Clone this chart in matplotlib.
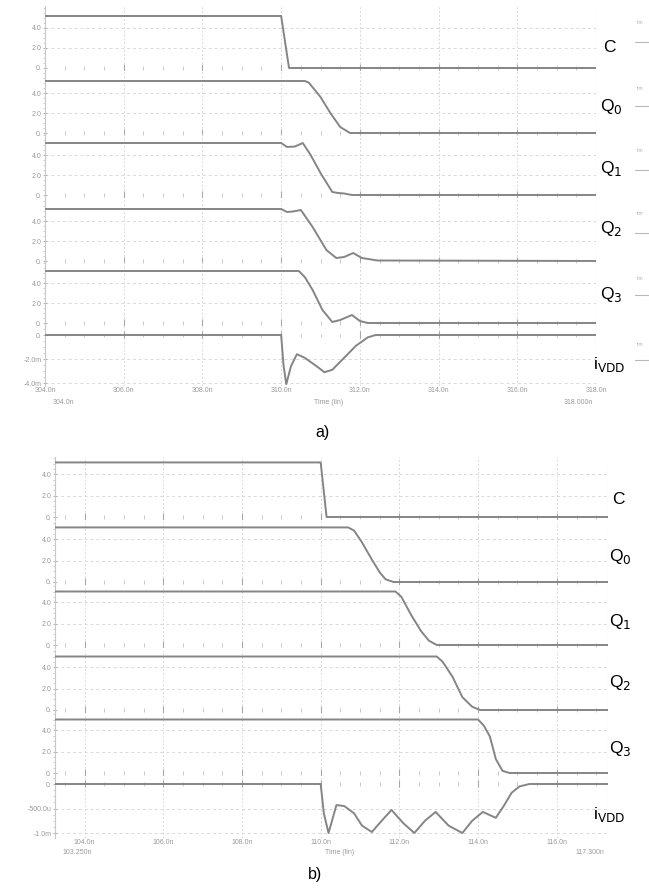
import math
import numpy as np
import matplotlib
matplotlib.use("Agg")
import matplotlib.pyplot as plt
from matplotlib.lines import Line2D

plt.rcParams['font.family'] = ['Liberation Sans', 'DejaVu Sans']

# ---------------- data (times in ns, voltages in V, currents in mA) -------------
signal_names = ["C", "Q$_0$", "Q$_1$", "Q$_2$", "Q$_3$", "i$_{\\rm VDD}$"]

# panel a)
a_xlim = (304.0, 318.0)
a_xticks = [304.0, 306.0, 308.0, 310.0, 312.0, 314.0, 316.0, 318.0]
a_xticklabels = ["304.0n", "306.0n", "308.0n", "310.0n", "312.0n", "314.0n", "316.0n", "318.0n"]
a_range_labels = ["304.0n", "Time (lin)", "318.000n"]

a_C_t = [304.0, 310.0, 310.2, 318.0]
a_C_v = [5.2, 5.2, 0.0, 0.0]
a_Q0_t = [304.0, 310.6, 310.7, 311.0, 311.25, 311.5, 311.75, 318.0]
a_Q0_v = [5.2, 5.2, 5.05, 3.6, 2.0, 0.6, 0.0, 0.0]
a_Q1_t = [304.0, 310.0, 310.15, 310.35, 310.55, 310.75, 311.0, 311.3, 311.45, 311.6, 311.8, 318.0]
a_Q1_v = [5.2, 5.2, 4.8, 4.85, 5.2, 4.0, 2.2, 0.3, 0.2, 0.15, 0.0, 0.0]
a_Q2_t = [304.0, 310.0, 310.15, 310.3, 310.5, 310.8, 311.15, 311.4, 311.6, 311.83, 312.05, 312.45, 318.0]
a_Q2_v = [5.2, 5.2, 4.9, 4.95, 5.1, 3.4, 1.1, 0.3, 0.4, 0.8, 0.3, 0.05, 0.0]
a_Q3_t = [304.0, 310.45, 310.6, 310.8, 311.05, 311.3, 311.5, 311.8, 312.0, 312.2, 318.0]
a_Q3_v = [5.2, 5.2, 4.6, 3.3, 1.3, 0.1, 0.3, 0.8, 0.2, 0.0, 0.0]
a_I_t = [304.0, 310.0, 310.06, 310.13, 310.25, 310.4, 310.6, 310.9, 311.1, 311.3, 311.6, 311.9, 312.2, 312.4, 318.0]
a_I_v = [0.0, 0.0, -2.5, -4.1, -2.6, -1.6, -1.9, -2.6, -3.1, -2.9, -1.9, -0.9, -0.2, 0.0, 0.0]
a_I_ticks = [0.0, -2.0, -4.0]
a_I_ticklabels = ["0.", "-2.0m", "-4.0m"]

# panel b)
b_xlim = (103.25, 117.3)
b_xticks = [104.0, 106.0, 108.0, 110.0, 112.0, 114.0, 116.0]
b_xticklabels = ["104.0n", "106.0n", "108.0n", "110.0n", "112.0n", "114.0n", "116.0n"]
b_range_labels = ["103.250n", "Time (lin)", "117.300n"]

b_C_t = [103.25, 110.0, 110.15, 117.3]
b_C_v = [5.1, 5.1, 0.0, 0.0]
b_Q0_t = [103.25, 110.7, 110.85, 111.05, 111.3, 111.5, 111.65, 111.85, 117.3]
b_Q0_v = [5.1, 5.1, 4.8, 3.7, 2.1, 0.9, 0.25, 0.0, 0.0]
b_Q1_t = [103.25, 111.9, 112.05, 112.3, 112.55, 112.75, 112.95, 117.3]
b_Q1_v = [5.0, 5.0, 4.5, 2.8, 1.3, 0.4, 0.0, 0.0]
b_Q2_t = [103.25, 112.95, 113.1, 113.35, 113.6, 113.85, 114.05, 117.3]
b_Q2_v = [5.0, 5.0, 4.5, 3.1, 1.2, 0.3, 0.0, 0.0]
b_Q3_t = [103.25, 114.0, 114.15, 114.3, 114.45, 114.62, 114.8, 117.3]
b_Q3_v = [5.0, 5.0, 4.4, 3.4, 1.3, 0.2, 0.0, 0.0]
b_I_t = [103.25, 110.0, 110.08, 110.2, 110.4, 110.6, 110.85, 111.05, 111.3, 111.55, 111.8,
         112.1, 112.38, 112.65, 112.92, 113.25, 113.6, 113.85, 114.12, 114.45, 114.65,
         114.85, 115.05, 115.3, 117.3]
b_I_v = [0.0, 0.0, -0.6, -1.0, -0.43, -0.45, -0.6, -0.85, -0.98, -0.75, -0.53,
         -0.8, -1.0, -0.75, -0.57, -0.85, -1.0, -0.75, -0.57, -0.69, -0.45,
         -0.18, -0.05, 0.0, 0.0]
b_I_ticks = [0.0, -0.5, -1.0]
b_I_ticklabels = ["0.", "-500.0u", "-1.0m"]

v_ticks = [0.0, 2.0, 4.0]
v_ticklabels = ["0.", "2.0", "4.0"]

# ---------------- layout helpers ----------------
W, H = 649, 888
fig = plt.figure(figsize=(W / 100, H / 100), dpi=100)
fig.patch.set_facecolor("white")

LINE = "#858585"
GRID = "#d9d9d9"
TXT = "#9a9a9a"
TFS = 5.0


def px_axes(left, top, right, bottom):
    return fig.add_axes([left / W, 1 - bottom / H, (right - left) / W, (bottom - top) / H])


def style_strip(ax, xlim, xticks, yticks, yticklabels, ylim, minor_step):
    ax.set_xlim(*xlim)
    ax.set_ylim(*ylim)
    ax.patch.set_alpha(0)
    for s in ("top", "right", "bottom"):
        ax.spines[s].set_visible(False)
    ax.spines["left"].set_color("#c8c8c8")
    ax.spines["left"].set_linewidth(0.8)
    ax.set_xticks(xticks)
    ax.set_xticklabels([])
    ax.tick_params(axis="x", length=0)
    ax.set_yticks(yticks)
    ax.set_yticklabels(yticklabels, fontsize=TFS, color=TXT)
    ax.tick_params(axis="y", length=3, color="#b8b8b8", pad=1, direction="inout")
    step = abs(yticks[1] - yticks[0]) / 4
    ax.set_yticks(np.arange(math.ceil(ylim[0] / step) * step, ylim[1], step), minor=True)
    ax.tick_params(axis="y", which="minor", length=1.5, color="#c8c8c8")
    for xt in xticks:
        ax.axvline(xt, color=GRID, lw=0.7, ls=(0, (2, 2)), zorder=0)
    for yt in yticks[1:]:
        ax.axhline(yt, color=GRID, lw=0.7, ls=(0, (3, 3)), zorder=0)
    # small tick marks along zero line
    start = math.ceil(xlim[0] / minor_step) * minor_step
    xs = np.arange(start, xlim[1] + 1e-9, minor_step)
    yr = ylim[1] - ylim[0]
    ax.vlines(xs, -0.025 * yr, 0.025 * yr, color="#c0c0c0", lw=0.6, zorder=1)
    ax.vlines(xticks, -0.05 * yr, 0.06 * yr, color="#a8a8a8", lw=0.8, zorder=1)
    ax.axvline(xlim[1], color="#c0c0c0", lw=0.8, ls=(0, (2, 1.5)), zorder=0)


def draw_panel(left, right, zeros, heights, vscale, iscale, izero, ibottom,
               xlim, xticks, xticklabels, range_labels, series, iseries, iticks, iticklabels,
               label_pos, range_y):
    for z, (tt, vv) in zip(zeros, series):
        top = z - heights
        bottom = z + 3
        ax = px_axes(left, top, right, bottom)
        ylim = (-(bottom - z) / vscale, (z - top) / vscale)
        style_strip(ax, xlim, xticks, v_ticks, v_ticklabels, ylim, 0.5)
        ax.plot(tt, vv, color=LINE, lw=1.4, solid_joinstyle="round", solid_capstyle="round", zorder=3)
    # current strip
    top = zeros[-1] + 3
    ax = px_axes(left, top, right, ibottom)
    ylim = (-(ibottom - izero) / iscale, (izero - top) / iscale)
    style_strip(ax, xlim, xticks, iticks, iticklabels, ylim, 0.5)
    ax.plot(iseries[0], iseries[1], color=LINE, lw=1.4, solid_joinstyle="round", solid_capstyle="round", zorder=3)
    ax.set_xticklabels(xticklabels, fontsize=TFS, color=TXT)
    ax.tick_params(axis="x", pad=1)
    # second row of time labels
    fig.text(left / W + 0.012, 1 - range_y / H, range_labels[0], fontsize=TFS, color=TXT, ha="left", va="center")
    fig.text((left + right) / 2 / W + 0.012, 1 - range_y / H, range_labels[1], fontsize=TFS, color=TXT, ha="center", va="center")
    fig.text(right / W - 0.005, 1 - range_y / H, range_labels[2], fontsize=TFS, color=TXT, ha="right", va="center")
    # signal names
    for name, (x, y) in zip(signal_names, label_pos):
        fig.text(x / W, 1 - y / H, name, fontsize=12.5, color="black", ha="left", va="center")


# panel a
draw_panel(45, 596,
           zeros=[68, 133, 195, 261, 323], heights=62, vscale=10.0,
           iscale=12.0, izero=335, ibottom=386,
           xlim=a_xlim, xticks=a_xticks, xticklabels=a_xticklabels, range_labels=a_range_labels,
           series=[(a_C_t, a_C_v), (a_Q0_t, a_Q0_v), (a_Q1_t, a_Q1_v), (a_Q2_t, a_Q2_v), (a_Q3_t, a_Q3_v)],
           iseries=(a_I_t, a_I_v), iticks=a_I_ticks, iticklabels=a_I_ticklabels,
           label_pos=[(603, 47), (600, 106), (600, 169), (600, 229), (600, 294), (593, 364)],
           range_y=403)

# panel b
draw_panel(55, 608,
           zeros=[517, 582, 645, 710, 773], heights=60, vscale=10.7,
           iscale=49.0, izero=784, ibottom=838,
           xlim=b_xlim, xticks=b_xticks, xticklabels=b_xticklabels, range_labels=b_range_labels,
           series=[(b_C_t, b_C_v), (b_Q0_t, b_Q0_v), (b_Q1_t, b_Q1_v), (b_Q2_t, b_Q2_v), (b_Q3_t, b_Q3_v)],
           iseries=(b_I_t, b_I_v), iticks=b_I_ticks, iticklabels=b_I_ticklabels,
           label_pos=[(612, 499), (609, 557), (609, 621), (609, 682), (609, 748), (593, 814)],
           range_y=852)

# captions
fig.text(322 / W, 1 - 432 / H, "a)", fontsize=11.5, ha="center", va="center")
fig.text(315 / W, 1 - 874 / H, "b)", fontsize=11.5, ha="center", va="center")

# clipped fragments at the right edge of panel a (parts of a neighbouring legend)
for ty, ly in [(23, 42), (88, 106), (150, 170), (213, 233), (278, 295), (345, 360)]:
    fig.text(637 / W, 1 - ty / H, "tim", fontsize=3.5, color="#b0b0b0", ha="left", va="center")
    fig.add_artist(Line2D([635 / W, 649 / W], [1 - ly / H, 1 - ly / H], color="#b8b8b8", lw=0.8))

fig.savefig("out.png", dpi=100, facecolor="white")
